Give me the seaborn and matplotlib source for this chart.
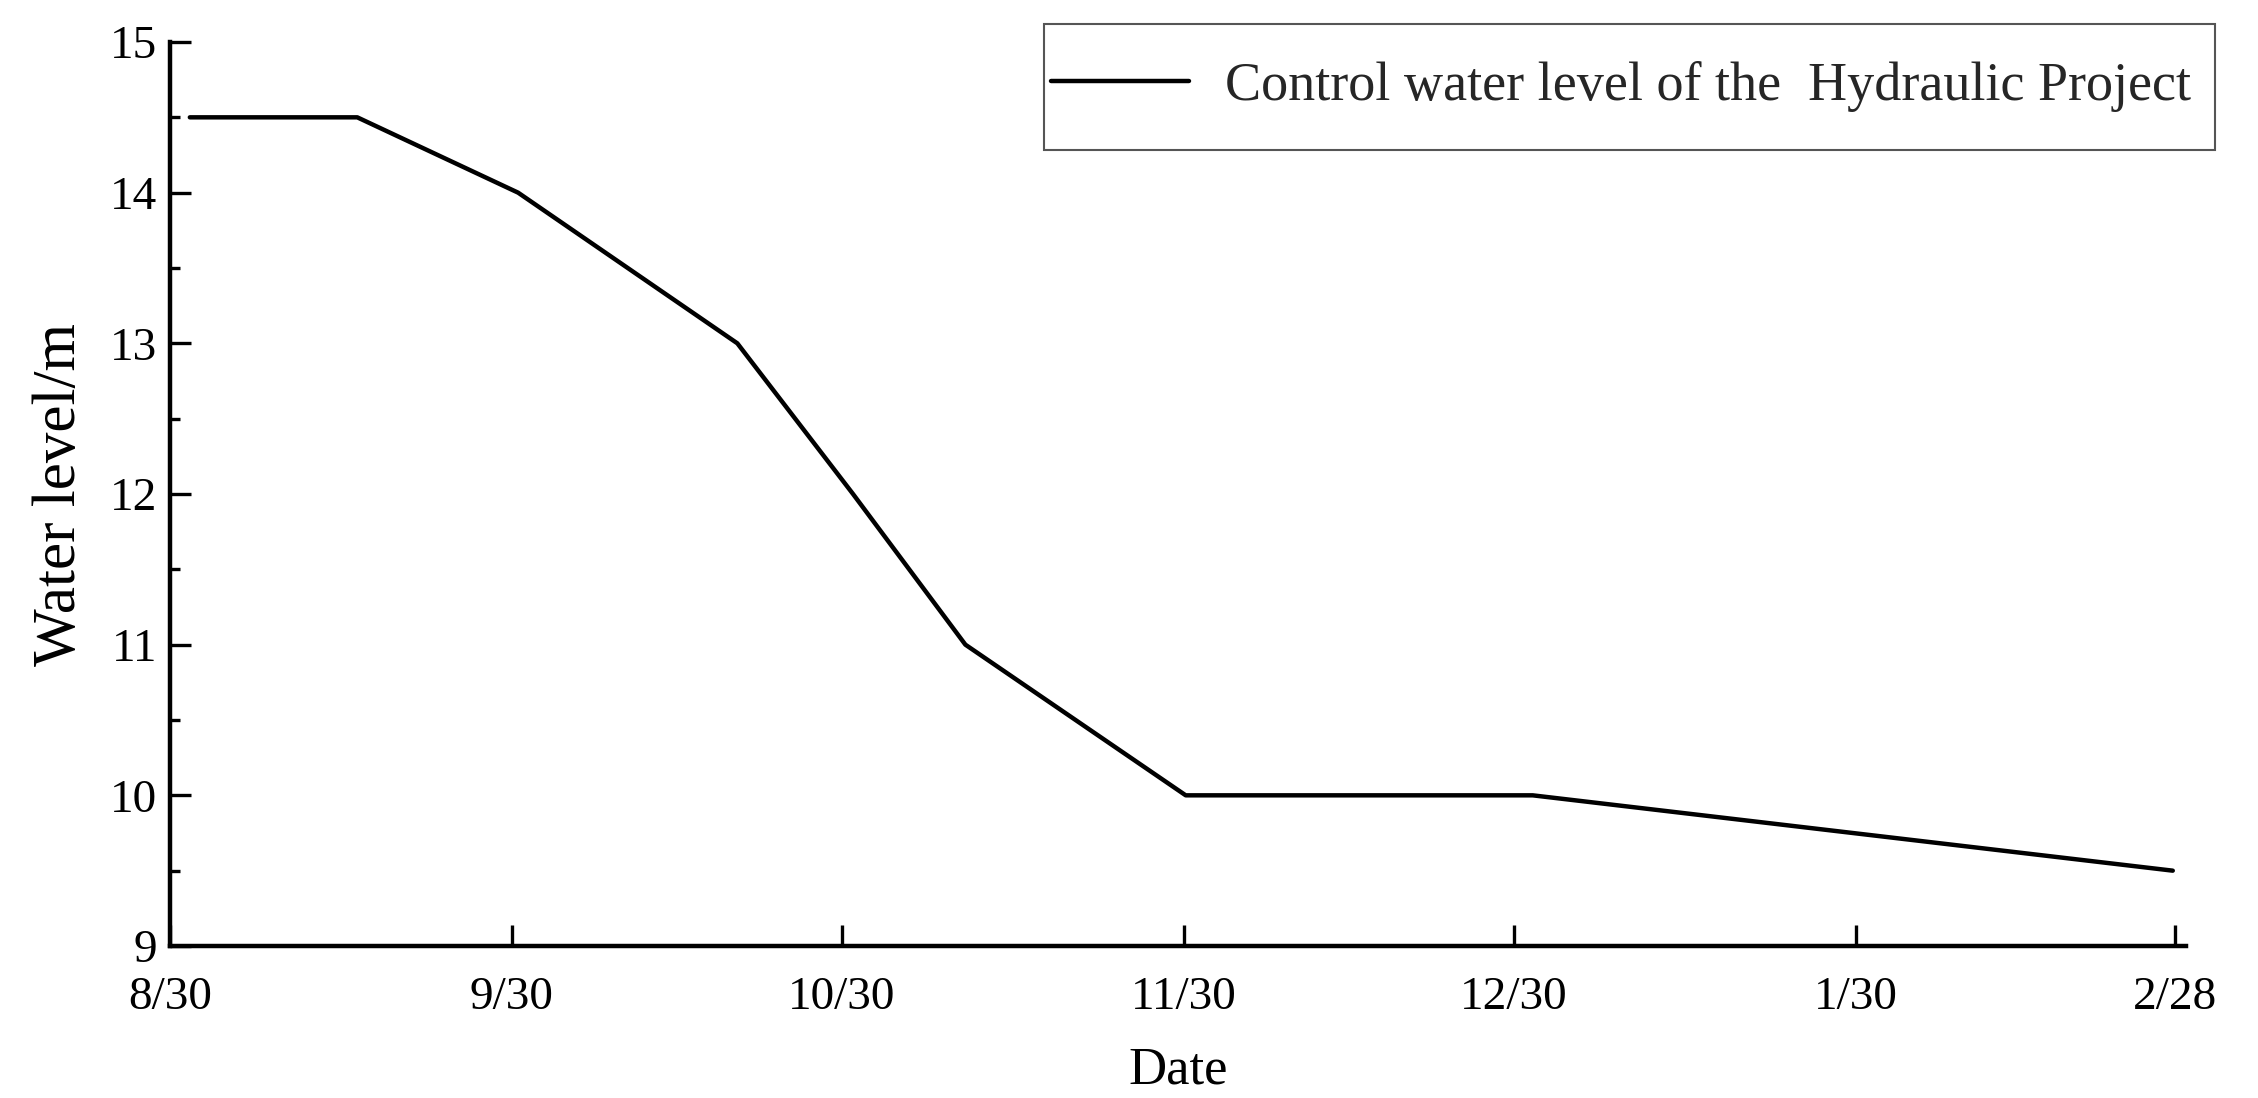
import numpy as np
import pandas as pd
import matplotlib
matplotlib.use("Agg")
import matplotlib.pyplot as plt
from matplotlib.ticker import MultipleLocator
from matplotlib.path import Path
import seaborn as sns

# ---- data (days since 8/30) ----
days = [1.8, 17, 31.6, 51.5, 62, 72.2, 92.2, 123.7, 181.8]
levels = [14.5, 14.5, 14.0, 13.0, 12.0, 11.0, 10.0, 10.0, 9.5]
tick_days = [0, 31, 61, 92, 122, 153, 182]
tick_labels = ["8/30", "9/30", "10/30", "11/30", "12/30", "1/30", "2/28"]
series_label = "Control water level of the  Hydraulic Project"

df = pd.DataFrame({"day": days, "level": levels})

sns.set_theme(style="ticks")
plt.rcParams["font.family"] = ["Liberation Serif", "DejaVu Serif"]

W, H, DPI = 2258, 1098, 100
fig = plt.figure(figsize=(W / DPI, H / DPI), dpi=DPI, facecolor="white")
ax = fig.add_axes([170 / W, 1 - 946 / H, (2186 - 170) / W, (946 - 42) / H])
ax.set_facecolor("white")

sns.lineplot(data=df, x="day", y="level", ax=ax, color="black", linewidth=3.2,
             label=series_label, sort=False)

ax.set_xlim(0, 183)
ax.set_ylim(9, 15)
ax.set_xticks(tick_days)
ax.set_xticklabels(tick_labels)
ax.yaxis.set_major_locator(MultipleLocator(1))
ax.yaxis.set_minor_locator(MultipleLocator(0.5))

for s in ["top", "right"]:
    ax.spines[s].set_visible(False)
for s in ["left", "bottom"]:
    ax.spines[s].set_linewidth(3.2)
    ax.spines[s].set_color("black")

ax.tick_params(axis="both", which="major", direction="in", length=15, width=2.4,
               colors="black", labelsize=34)
ax.tick_params(axis="x", which="major", pad=22)
ax.tick_params(axis="y", which="major", pad=9)
ax.tick_params(axis="y", which="minor", direction="in", length=7.5, width=2.4,
               colors="black")

ax.set_xlabel("Date", fontsize=38, color="black", labelpad=20)
ax.set_ylabel("Water level/m", fontsize=44, color="black", labelpad=16)

leg = ax.legend(loc="upper right", bbox_to_anchor=(2196 / W, 1 - 56 / H),
                bbox_transform=fig.transFigure, frameon=True, fancybox=False,
                fontsize=39, handlelength=2.55, handletextpad=0.65,
                borderpad=0.1, borderaxespad=0)


def wide_box(x0, y0, width, height, mutation_size):
    # asymmetric padding: small on the left, more at right and top/bottom
    pl, pr, pv = 2, 19, 32
    xa, xb = x0 - pl, x0 + width + pr
    ya, yb = y0 - pv, y0 + height + pv
    return Path([(xa, ya), (xb, ya), (xb, yb), (xa, yb), (xa, ya)], closed=True)


frame = leg.get_frame()
frame.set_boxstyle(wide_box)
frame.set_edgecolor("#555555")
frame.set_linewidth(1.5)
frame.set_facecolor("white")
frame.set_alpha(1)
for line in leg.get_lines():
    line.set_linewidth(3.2)

fig.savefig("out.png", dpi=DPI, facecolor="white")
